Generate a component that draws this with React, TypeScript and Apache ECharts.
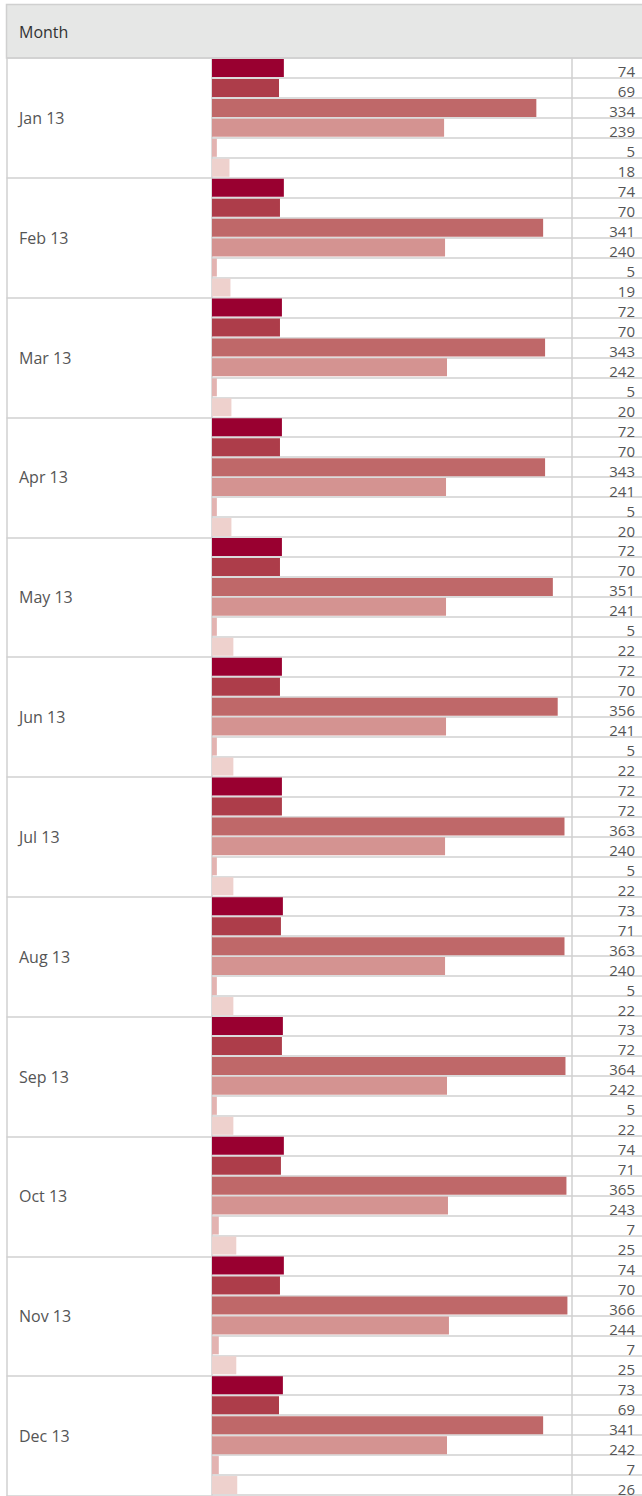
import React, { useEffect, useRef } from "react";
import * as echarts from "echarts";

// Months shown down the left column
const months = [
  "Jan 13", "Feb 13", "Mar 13", "Apr 13", "May 13", "Jun 13",
  "Jul 13", "Aug 13", "Sep 13", "Oct 13", "Nov 13", "Dec 13",
];

// Six measures per month, top to bottom within each month block
const measure1 = [74, 74, 72, 72, 72, 72, 72, 73, 73, 74, 74, 73];
const measure2 = [69, 70, 70, 70, 70, 70, 72, 71, 72, 71, 70, 69];
const measure3 = [334, 341, 343, 343, 351, 356, 363, 363, 364, 365, 366, 341];
const measure4 = [239, 240, 242, 241, 241, 241, 240, 240, 242, 243, 244, 242];
const measure5 = [5, 5, 5, 5, 5, 5, 5, 5, 5, 7, 7, 7];
const measure6 = [18, 19, 20, 20, 22, 22, 22, 22, 22, 25, 25, 26];

const measures = [measure1, measure2, measure3, measure4, measure5, measure6];
const barColors = ["#990030", "#ad3d4a", "#bf6869", "#d49391", "#e3b3b1", "#eed1cd"];

const FONT = "'Open Sans', 'Noto Sans', sans-serif";
const LINE = "#d0d0d0";

export default function App() {
  const ref = useRef<HTMLDivElement>(null);

  useEffect(() => {
    if (!ref.current) return;
    const chart = echarts.init(ref.current, undefined, { renderer: "svg" });

    // Flatten to one row per (month, measure)
    const rowKeys: string[] = [];
    const rowValues: number[] = [];
    const rowColors: string[] = [];
    months.forEach((m, mi) => {
      measures.forEach((arr, si) => {
        rowKeys.push(`${m}#${si}`);
        rowValues.push(arr[mi]);
        rowColors.push(barColors[si]);
      });
    });

    const rowH = 20.05;
    const top = 58;
    const bodyH = rowKeys.length * rowH;

    chart.setOption({
      animation: false,
      backgroundColor: "#ffffff",
      textStyle: { fontFamily: FONT },
      graphic: [
        {
          type: "rect",
          shape: { x: 6.5, y: 4.5, width: 640, height: top - 4.5 },
          style: { fill: "#e6e7e6", stroke: LINE, lineWidth: 1.5 },
          z: 0,
        },
        {
          type: "text",
          x: 19,
          y: 32,
          style: {
            text: "Month",
            fill: "#333333",
            font: `16px ${FONT}`,
            verticalAlign: "middle",
          },
          z: 1,
        },
      ],
      grid: [
        { left: 212, top, width: 430, height: bodyH, containLabel: false },
        { left: 6.5, top, width: 205.5, height: bodyH, containLabel: false },
      ],
      xAxis: [
        {
          gridIndex: 0,
          type: "value",
          min: 0,
          max: 442.8,
          interval: 370,
          axisLine: { show: false },
          axisTick: { show: false },
          axisLabel: { show: false },
          splitLine: {
            show: true,
            showMinLine: false,
            showMaxLine: false,
            lineStyle: { color: LINE, width: 1.5 },
          },
        },
        {
          gridIndex: 1,
          type: "value",
          min: 0,
          max: 1,
          show: false,
          splitLine: { show: false },
        },
      ],
      yAxis: [
        {
          gridIndex: 0,
          type: "category",
          data: rowKeys,
          inverse: true,
          position: "left",
          axisLine: { show: true, lineStyle: { color: LINE, width: 1.5 } },
          axisTick: { show: false },
          axisLabel: { show: false },
          splitLine: { show: true, lineStyle: { color: LINE, width: 1.5 } },
        },
        {
          gridIndex: 0,
          type: "category",
          data: rowKeys,
          inverse: true,
          position: "right",
          axisLine: { show: false },
          axisTick: { show: false },
          splitLine: { show: false },
          axisLabel: {
            show: true,
            inside: true,
            margin: 7,
            interval: 0,
            color: "#555555",
            fontSize: 15,
            fontFamily: FONT,
            verticalAlign: "top",
            lineHeight: 7,
            formatter: (_v: string, i: number) => String(rowValues[i]),
          },
        },
        {
          gridIndex: 1,
          type: "category",
          data: months,
          inverse: true,
          position: "left",
          axisLine: { show: true, lineStyle: { color: LINE, width: 1.5 } },
          axisTick: { show: false },
          splitLine: { show: true, lineStyle: { color: LINE, width: 1.5 } },
          axisLabel: {
            show: true,
            inside: true,
            margin: 12.5,
            interval: 0,
            color: "#555555",
            fontSize: 16,
            fontFamily: FONT,
          },
        },
      ],
      series: [
        {
          type: "bar",
          xAxisIndex: 0,
          yAxisIndex: 0,
          barWidth: 18,
          data: rowValues.map((v, i) => ({
            value: v,
            itemStyle: { color: rowColors[i] },
          })),
        },
      ],
    });

    return () => chart.dispose();
  }, []);

  return (
    <div
      ref={ref}
      style={{ position: "absolute", left: 0, top: 0, width: 642, height: 1496 }}
    />
  );
}
